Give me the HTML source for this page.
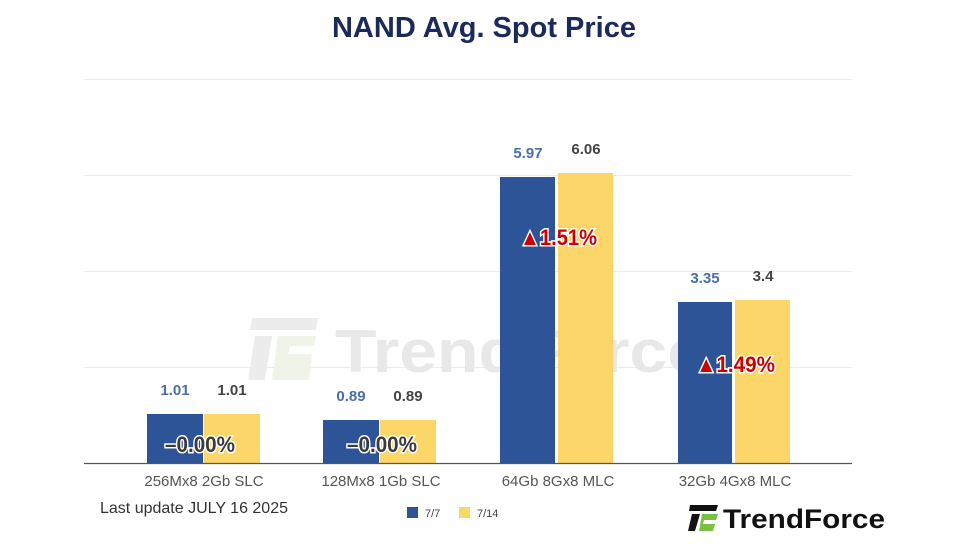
<!DOCTYPE html>
<html><head><meta charset="utf-8"><style>
body{margin:0;width:960px;height:540px;background:#fff;overflow:hidden;font-family:"Liberation Sans",sans-serif}
</style></head><body>
<svg width="960" height="540" xmlns="http://www.w3.org/2000/svg" font-family="Liberation Sans, sans-serif">
<text x="484" y="37" text-anchor="middle" font-size="29" font-weight="bold" fill="#1c2a5a">NAND Avg. Spot Price</text>
<g stroke="#ececec" stroke-width="1">
<line x1="84" x2="852" y1="79.5" y2="79.5"/><line x1="84" x2="852" y1="175.5" y2="175.5"/>
<line x1="84" x2="852" y1="271.5" y2="271.5"/><line x1="84" x2="852" y1="367.5" y2="367.5"/>
</g>
<text x="335" y="372" font-size="60" font-weight="bold" fill="#e8e8e8" textLength="370" lengthAdjust="spacingAndGlyphs">TrendForce</text>
<polygon points="252,318 318,318 316,330 250,330" fill="#ececec"/>
<polygon points="255,336 272,336 265,380 248,380" fill="#ececec"/>
<polygon points="278,336 316,336 314,346 290,346 288,354 312,354 309,380 272,380" fill="#f0f4e8"/>
<g fill="#2d5497">
<rect x="147" y="414" width="56" height="49"/><rect x="323" y="420" width="56" height="43"/>
<rect x="500" y="177" width="55" height="286"/><rect x="678" y="302" width="54" height="161"/>
</g>
<g fill="#fdd669">
<rect x="204" y="414" width="56" height="49"/><rect x="380" y="420" width="56" height="43"/>
<rect x="558" y="173" width="55" height="290"/><rect x="735" y="300" width="55" height="163"/>
</g>
<line x1="84" x2="852" y1="463.5" y2="463.5" stroke="#555" stroke-width="1.2"/>
<g font-size="15" font-weight="bold" text-anchor="middle">
<text x="175" y="395" fill="#4a6eaa">1.01</text><text x="232" y="395" fill="#444">1.01</text>
<text x="351" y="401" fill="#4a6eaa">0.89</text><text x="408" y="401" fill="#444">0.89</text>
<text x="528" y="158" fill="#4a6eaa">5.97</text><text x="586" y="154" fill="#444">6.06</text>
<text x="705" y="283" fill="#4a6eaa">3.35</text><text x="763" y="281" fill="#444">3.4</text>
</g>
<g font-size="22" font-weight="bold" stroke-width="3" paint-order="stroke">
<text x="165" y="452" fill="#3a3a3a" stroke="#fff" textLength="70" lengthAdjust="spacingAndGlyphs">–0.00%</text>
<text x="347" y="452" fill="#3a3a3a" stroke="#fff" textLength="70" lengthAdjust="spacingAndGlyphs">–0.00%</text>
<text x="520" y="245" fill="#c00" stroke="#fff" textLength="77" lengthAdjust="spacingAndGlyphs">▲1.51%</text>
<text x="696" y="372" fill="#c00" stroke="#fff" textLength="79" lengthAdjust="spacingAndGlyphs">▲1.49%</text>
</g>
<g font-size="15" fill="#555" text-anchor="middle">
<text x="204" y="486">256Mx8 2Gb SLC</text><text x="381" y="486">128Mx8 1Gb SLC</text>
<text x="558" y="486">64Gb 8Gx8 MLC</text><text x="735" y="486">32Gb 4Gx8 MLC</text>
</g>
<text x="100" y="513" font-size="16" fill="#333">Last update JULY 16 2025</text>
<rect x="407" y="507" width="11" height="11" fill="#2d5497"/><text x="425" y="517" font-size="11" fill="#444">7/7</text>
<rect x="459" y="507" width="11" height="11" fill="#fdd669"/><text x="477" y="517" font-size="11" fill="#444">7/14</text>
<g>
<polygon points="690,505 718,505 716,511 689,511" fill="#111"/>
<polygon points="692,514 700,514 695,531 688,531" fill="#111"/>
<polygon points="702,514 718,514 716,520 704,520 703,524 715,524 713,531 699,531" fill="#7ac142"/>
</g>
<text x="723" y="528" font-size="27" font-weight="bold" fill="#111" textLength="162" lengthAdjust="spacingAndGlyphs">TrendForce</text>
</svg>
</body></html>
